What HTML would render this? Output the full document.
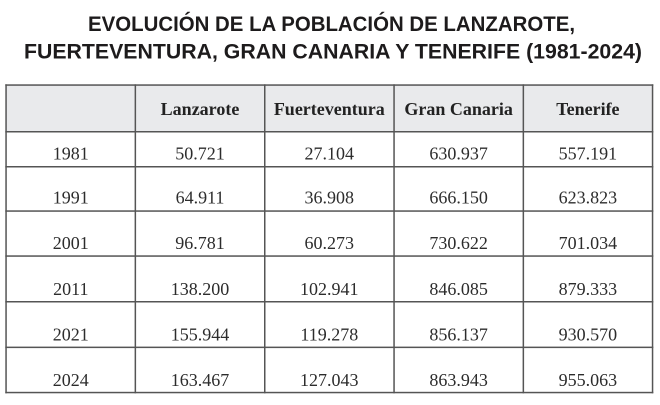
<!DOCTYPE html>
<html><head><meta charset="utf-8"><style>
html,body{margin:0;padding:0;background:#fff;}
svg{display:block;}
</style></head><body>
<svg width="660" height="405" viewBox="0 0 660 405" xmlns="http://www.w3.org/2000/svg">
<rect x="0" y="0" width="660" height="405" fill="#fff"/>
<g font-family="'Liberation Sans', Arial, sans-serif" font-weight="bold" font-size="21.3" fill="#1d1b1c">
<text x="88" y="31" textLength="487" lengthAdjust="spacingAndGlyphs">EVOLUCIÓN DE LA POBLACIÓN DE LANZAROTE,</text>
<text x="24" y="58.7" textLength="618" lengthAdjust="spacingAndGlyphs">FUERTEVENTURA, GRAN CANARIA Y TENERIFE (1981-2024)</text>
</g>
<rect x="6" y="85" width="646.5" height="46.7" fill="#e9eaec"/>
<g fill="#555">
<rect x="5.3" y="84.3" width="648" height="1.5"/>
<rect x="5.3" y="131" width="648" height="1.5"/>
<rect x="5.3" y="166" width="648" height="1.5"/>
<rect x="5.3" y="210.3" width="648" height="1.5"/>
<rect x="5.3" y="255.3" width="648" height="1.5"/>
<rect x="5.3" y="301" width="648" height="1.5"/>
<rect x="5.3" y="346.6" width="648" height="1.5"/>
<rect x="5.3" y="391.8" width="648" height="1.5"/>
<rect x="5.3" y="84.3" width="1.5" height="309"/>
<rect x="134.6" y="84.3" width="1.5" height="309"/>
<rect x="264" y="84.3" width="1.5" height="309"/>
<rect x="393.3" y="84.3" width="1.5" height="309"/>
<rect x="522.6" y="84.3" width="1.5" height="309"/>
<rect x="651.8" y="84.3" width="1.5" height="309"/>
</g>
<g font-family="'Liberation Serif', 'Times New Roman', serif" font-size="18" text-anchor="middle">
<g font-weight="bold" fill="#222">
<text x="200" y="115">Lanzarote</text>
<text x="329.3" y="115">Fuerteventura</text>
<text x="458.6" y="115">Gran Canaria</text>
<text x="587.9" y="115">Tenerife</text>
</g>
<g fill="#2c2c2c">
<text x="70.8" y="159.3">1981</text><text x="200" y="159.3">50.721</text><text x="329.3" y="159.3">27.104</text><text x="458.6" y="159.3">630.937</text><text x="587.9" y="159.3">557.191</text>
<text x="70.8" y="203.6">1991</text><text x="200" y="203.6">64.911</text><text x="329.3" y="203.6">36.908</text><text x="458.6" y="203.6">666.150</text><text x="587.9" y="203.6">623.823</text>
<text x="70.8" y="249">2001</text><text x="200" y="249">96.781</text><text x="329.3" y="249">60.273</text><text x="458.6" y="249">730.622</text><text x="587.9" y="249">701.034</text>
<text x="70.8" y="295">2011</text><text x="200" y="295">138.200</text><text x="329.3" y="295">102.941</text><text x="458.6" y="295">846.085</text><text x="587.9" y="295">879.333</text>
<text x="70.8" y="340.6">2021</text><text x="200" y="340.6">155.944</text><text x="329.3" y="340.6">119.278</text><text x="458.6" y="340.6">856.137</text><text x="587.9" y="340.6">930.570</text>
<text x="70.8" y="385.8">2024</text><text x="200" y="385.8">163.467</text><text x="329.3" y="385.8">127.043</text><text x="458.6" y="385.8">863.943</text><text x="587.9" y="385.8">955.063</text>
</g>
</g>
</svg>
</body></html>
